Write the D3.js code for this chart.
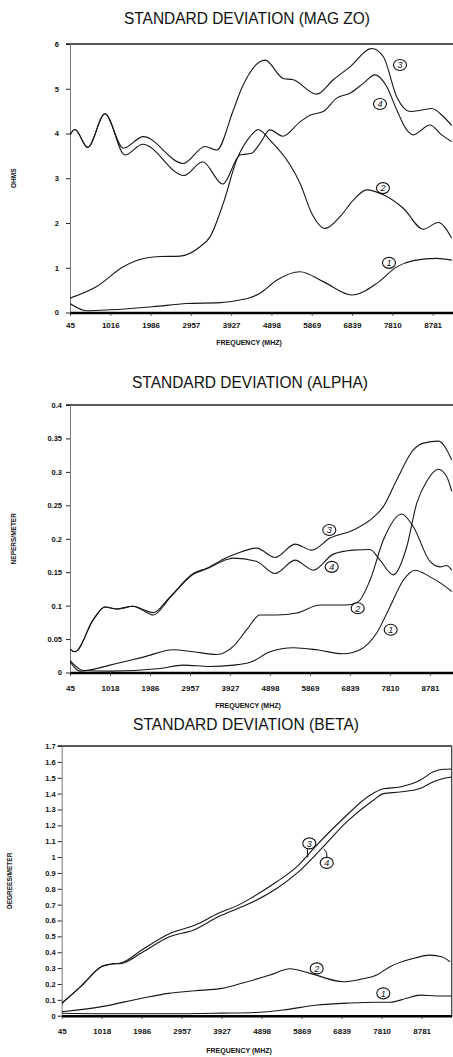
<!DOCTYPE html>
<html>
<head>
<meta charset="utf-8">
<script src="https://cdn.jsdelivr.net/npm/d3@7"></script>
<style>
  body { margin: 0; background: #fff; }
  svg { display: block; }
  text { font-family: "Liberation Sans", Arial, sans-serif; fill: #111; }
</style>
</head>
<body>
<svg id="chart" width="453" height="1057"></svg>
<script>
// ---- data (frequency MHz, value) ----
const freqTicks = [45, 1016, 1986, 2957, 3927, 4898, 5869, 6839, 7810, 8781];
const freqLabelsMag = ['45', '1016', '1986', '2957', '3927', '4898', '5869', '6839', '7810', '8781'];
const freqLabels = ['45', '1018', '1986', '2957', '3927', '4898', '5869', '6839', '7810', '8781'];

const magTicks = [0, 1, 2, 3, 4, 5, 6];
const alphaTicks = [0, 0.05, 0.1, 0.15, 0.2, 0.25, 0.3, 0.35, 0.4];
const betaTicks = [0, 0.1, 0.2, 0.3, 0.4, 0.5, 0.6, 0.7, 0.8, 0.9, 1, 1.1, 1.2, 1.3, 1.4, 1.5, 1.6, 1.7];

const mag1 = [[45,0.2],[447,0.04],[1009,0.06],[2045,0.13],[2856,0.2],[3659,0.22],[4140,0.28],[4381,0.33],
  [4622,0.43],[5024,0.72],[5586,0.91],[6147,0.69],[6831,0.39],[7434,0.65],[7915,1.02],[8315,1.16],[8879,1.21],[9240,1.17]];
const mag2 = [[45,0.32],[688,0.58],[1329,1.02],[1652,1.16],[2213,1.25],[2695,1.26],[3177,1.47],[3418,1.69],
  [3738,2.44],[4061,3.41],[4381,3.93],[4581,4.09],[4863,3.85],[5345,3.3],[5586,2.89],[5867,2.22],[6188,1.88],
  [6549,2.14],[6870,2.51],[7192,2.74],[7593,2.63],[8074,2.33],[8556,1.86],[8917,2.01],[9240,1.66]];
const mag3 = [[45,3.97],[165,4.09],[471,3.69],[888,4.44],[1329,3.67],[1811,3.93],[2774,3.33],[3297,3.71],
  [3579,3.63],[3979,4.52],[4181,5.01],[4743,5.64],[5183,5.23],[5424,5.2],[5988,4.88],[6388,5.2],[6790,5.49],
  [7313,5.9],[7593,5.72],[7915,4.82],[8236,4.49],[8556,4.53],[8758,4.56],[9038,4.38],[9240,4.18]];
const mag4 = [[45,3.97],[165,4.09],[471,3.69],[888,4.44],[1370,3.52],[1796,3.76],[2791,3.06],[3242,3.37],
  [3723,2.87],[4140,3.52],[4422,3.56],[4622,3.78],[4863,4.08],[5170,3.94],[5586,4.26],[5827,4.41],[6147,4.49],
  [6470,4.79],[6790,4.9],[7111,5.12],[7393,5.31],[7674,5.05],[7915,4.53],[8156,4.08],[8315,3.97],[8717,4.19],
  [8999,3.97],[9240,3.82]];

const alpha1 = [[45,0.018],[361,0.003],[1016,0.002],[2229,0.006],[2795,0.011],[3443,0.009],[4008,0.011],
  [4455,0.016],[4899,0.031],[5465,0.037],[6033,0.034],[6678,0.028],[7083,0.034],[7488,0.059],[7811,0.0985],
  [8134,0.138],[8418,0.153],[8782,0.143],[9105,0.131],[9309,0.121]];
const alpha2 = [[45,0.016],[288,0.002],[1016,0.011],[1824,0.023],[2552,0.034],[3037,0.031],[3605,0.027],
  [4008,0.039],[4334,0.064],[4656,0.086],[5062,0.086],[5547,0.089],[6113,0.101],[6760,0.101],[7042,0.106],
  [7326,0.138],[7649,0.198],[8095,0.237],[8377,0.218],[8782,0.166],[9025,0.158],[9187,0.16],[9309,0.153]];
const alpha3 = [[45,0.035],[166,0.031],[610,0.079],[894,0.098],[1178,0.095],[1581,0.099],[1785,0.095],
  [2067,0.0895],[2472,0.113],[3037,0.148],[3363,0.156],[3848,0.172],[4091,0.178],[4576,0.186],[5020,0.172],
  [5506,0.192],[5911,0.183],[6355,0.201],[6921,0.213],[7406,0.232],[7649,0.248],[7974,0.288],[8377,0.333],
  [8620,0.343],[8986,0.346],[9309,0.318]];
const alpha4 = [[45,0.035],[166,0.031],[610,0.079],[894,0.098],[1178,0.095],[1581,0.099],[1785,0.094],
  [2067,0.086],[2472,0.112],[3037,0.147],[3363,0.155],[3848,0.169],[4008,0.171],[4576,0.166],[5020,0.148],
  [5506,0.168],[5950,0.153],[6436,0.177],[6921,0.183],[7326,0.184],[7569,0.168],[7892,0.146],[8217,0.188],
  [8459,0.253],[8702,0.286],[8984,0.304],[9187,0.293],[9309,0.271]];

const beta1 = [[45,0.015],[1016,0.012],[2632,0.012],[3928,0.016],[4736,0.02],[5423,0.036],[6234,0.067],
  [7042,0.08],[7690,0.085],[8013,0.085],[8418,0.11],[8741,0.13],[9146,0.124],[9510,0.124]];
const beta2 = [[45,0.025],[1016,0.057],[1987,0.11],[2632,0.141],[3280,0.157],[3928,0.172],[4414,0.204],
  [5100,0.256],[5586,0.296],[6071,0.267],[6879,0.214],[7285,0.229],[7690,0.256],[8013,0.309],[8498,0.355],
  [8983,0.382],[9267,0.371],[9470,0.34]];
const beta3 = [[45,0.078],[530,0.19],[1016,0.31],[1259,0.326],[1501,0.334],[1987,0.414],[2632,0.514],
  [3280,0.571],[3846,0.645],[4414,0.708],[4664,0.745],[5263,0.844],[5748,0.938],[6234,1.075],[6879,1.243],
  [7527,1.39],[7850,1.43],[8256,1.442],[8741,1.484],[9064,1.537],[9306,1.553],[9510,1.555]];
const beta4 = [[45,0.078],[530,0.19],[1016,0.31],[1259,0.326],[1501,0.33],[1987,0.397],[2632,0.494],
  [3280,0.544],[3846,0.623],[4414,0.686],[4664,0.715],[5263,0.802],[5748,0.897],[6314,1.043],[6962,1.222],
  [7608,1.358],[7850,1.4],[8256,1.41],[8741,1.432],[9064,1.474],[9306,1.495],[9510,1.505]];

// hand-written circled series numbers: [freq, value, label]
const magNotes = [[7995,5.53,'3'],[7513,4.66,'4'],[7585,2.78,'2'],[7730,1.11,'1']];
const alphaNotes = [[6338,0.213,'3'],[6396,0.158,'4'],[7027,0.096,'2'],[7828,0.064,'1']];
const betaNotes = [[6054,1.086,'3'],[6477,0.963,'4'],[6234,0.298,'2'],[7850,0.141,'1']];

// ---- layout ----
const panels = [
  { title: 'STANDARD DEVIATION (MAG ZO)', titleX: 247, titleY: 24, titleW: 246,
    left: 70, right: 453, top: 44, bottom: 312.5, xMax: 9272, yTicks: magTicks,
    xLabels: freqLabelsMag, tickLabelY: 15.5, xTitleY: 345, xTitleX: 249,
    yTitle: 'OHMS', yTitleX: 14, yLabelGap: 11,
    series: [mag1, mag2, mag3, mag4], notes: magNotes },
  { title: 'STANDARD DEVIATION (ALPHA)', titleX: 250, titleY: 388, titleW: 236,
    left: 70, right: 453, top: 405, bottom: 672.5, xMax: 9340, yTicks: alphaTicks,
    xLabels: freqLabels, tickLabelY: 18.5, xTitleY: 707.5, xTitleX: 248,
    yTitle: 'NEPERS/METER', yTitleX: 14, yLabelGap: 8,
    series: [alpha1, alpha2, alpha3, alpha4], notes: alphaNotes },
  { title: 'STANDARD DEVIATION (BETA)', titleX: 246, titleY: 730, titleW: 226,
    left: 61.7, right: 451.7, top: 746, bottom: 1015.7, xMax: 9510, yTicks: betaTicks,
    xLabels: freqLabels, tickLabelY: 18.5, xTitleY: 1053, xTitleX: 239,
    yTitle: 'DEGREES/METER', yTitleX: 10, yLabelGap: 6, box: true,
    series: [beta1, beta2, beta3, beta4], notes: betaNotes }
];

const svg = d3.select('#chart');

panels.forEach((p, pi) => {
  const g = svg.append('g');
  const x = d3.scaleLinear().domain([45, p.xMax]).range([p.left, p.right]);
  const yMax = p.yTicks[p.yTicks.length - 1];
  const y = d3.scaleLinear().domain([0, yMax]).range([p.bottom, p.top]);

  // title
  g.append('text')
    .attr('x', p.titleX).attr('y', p.titleY)
    .attr('text-anchor', 'middle')
    .attr('font-size', 16)
    .attr('textLength', p.titleW)
    .attr('lengthAdjust', 'spacingAndGlyphs')
    .text(p.title);

  // frame
  g.append('line')
    .attr('x1', p.left - 4).attr('x2', p.right)
    .attr('y1', p.top).attr('y2', p.top)
    .attr('stroke', '#222').attr('stroke-width', 1.4);
  if (p.box) {
    g.append('line')
      .attr('x1', p.right).attr('x2', p.right)
      .attr('y1', p.top).attr('y2', p.bottom)
      .attr('stroke', '#333').attr('stroke-width', 1.2);
  }

  // y axis
  const yAxis = g.append('g')
    .attr('transform', `translate(${p.left},0)`)
    .call(d3.axisLeft(y).tickValues(p.yTicks).tickSize(4).tickSizeOuter(0)
      .tickPadding(p.yLabelGap - 4).tickFormat(d => String(d)));
  yAxis.select('.domain').attr('stroke', '#777').attr('stroke-width', 1);
  yAxis.selectAll('.tick line').attr('stroke', '#222');
  yAxis.selectAll('.tick text')
    .attr('font-size', 7.5).attr('font-weight', 'bold')
    .style('font-family', '"Liberation Sans", Arial, sans-serif');

  // x axis
  const xAxis = g.append('g')
    .attr('transform', `translate(0,${p.bottom})`)
    .call(d3.axisBottom(x).tickValues(freqTicks).tickSize(3).tickSizeOuter(0)
      .tickPadding(p.tickLabelY - 9).tickFormat((d, i) => p.xLabels[i]));
  xAxis.select('.domain').attr('stroke', '#000').attr('stroke-width', 2.4);
  xAxis.selectAll('.tick line').attr('stroke', '#222');
  xAxis.selectAll('.tick text')
    .attr('font-size', 8).attr('font-weight', 'bold')
    .style('font-family', '"Liberation Sans", Arial, sans-serif');

  // axis titles
  g.append('text')
    .attr('x', p.xTitleX).attr('y', p.xTitleY)
    .attr('text-anchor', 'middle')
    .attr('font-size', 7).attr('font-weight', 'bold')
    .text('FREQUENCY (MHZ)');
  g.append('text')
    .attr('transform', `translate(${p.yTitleX},${(p.top + p.bottom) / 2}) rotate(-90)`)
    .attr('text-anchor', 'middle').attr('dy', '0.35em')
    .attr('font-size', 6.5).attr('font-weight', 'bold')
    .text(p.yTitle);

  // curves
  const clipId = 'clip' + pi;
  svg.append('clipPath').attr('id', clipId)
    .append('rect')
    .attr('x', p.left).attr('y', p.top - 2)
    .attr('width', p.right - p.left).attr('height', p.bottom - p.top + 2);

  const line = d3.line()
    .x(d => x(d[0]))
    .y(d => y(d[1]))
    .curve(d3.curveMonotoneX);

  g.append('g').attr('clip-path', `url(#${clipId})`)
    .selectAll('path')
    .data(p.series)
    .enter().append('path')
    .attr('d', line)
    .attr('fill', 'none')
    .attr('stroke', '#161616')
    .attr('stroke-width', 1.1);

  // circled labels
  const notes = g.selectAll('.note')
    .data(p.notes)
    .enter().append('g')
    .attr('class', 'note')
    .attr('transform', d => `translate(${x(d[0])},${y(d[1])})`);
  notes.append('ellipse')
    .attr('rx', 6.5).attr('ry', 5.5)
    .attr('fill', 'none').attr('stroke', '#111').attr('stroke-width', 1.1);
  notes.append('text')
    .attr('text-anchor', 'middle').attr('dy', '0.36em')
    .attr('font-size', 9).attr('font-style', 'italic')
    .text(d => d[2]);

  // leader strokes for the 3/4 labels of the beta panel
  if (p.box) {
    notes.filter(d => d[2] === '3').append('path')
      .attr('d', 'M-2,5.5 L-1.5,14')
      .attr('fill', 'none').attr('stroke', '#111').attr('stroke-width', 1);
    notes.filter(d => d[2] === '4').append('path')
      .attr('d', 'M0,-5.5 Q1,-11 -3,-14')
      .attr('fill', 'none').attr('stroke', '#111').attr('stroke-width', 1);
  }
});
</script>
</body>
</html>
